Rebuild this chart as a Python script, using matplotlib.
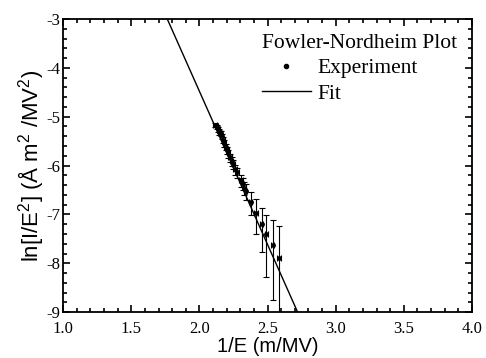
import matplotlib.pyplot as plt
from matplotlib.lines import Line2D
import numpy as np

# Fowler-Nordheim data
inv_field = [2.115, 2.127, 2.139, 2.146, 2.156, 2.163, 2.176, 2.183, 2.193,
             2.205, 2.212, 2.225, 2.237, 2.249, 2.262, 2.279, 2.306, 2.318,
             2.330, 2.340, 2.377, 2.415, 2.457, 2.490, 2.538, 2.585]
ln_current = [-5.17, -5.20, -5.26, -5.31, -5.34, -5.40, -5.47, -5.54, -5.61,
              -5.68, -5.75, -5.83, -5.91, -5.96, -6.08, -6.13, -6.30, -6.37,
              -6.45, -6.52, -6.74, -6.98, -7.20, -7.40, -7.63, -7.90]
err_up = [0.04, 0.04, 0.05, 0.05, 0.05, 0.05, 0.06, 0.06, 0.06,
          0.07, 0.07, 0.07, 0.08, 0.08, 0.09, 0.09, 0.10, 0.11,
          0.12, 0.14, 0.20, 0.29, 0.33, 0.38, 0.51, 0.67]
err_down = [0.05, 0.05, 0.06, 0.06, 0.06, 0.06, 0.07, 0.07, 0.08,
            0.08, 0.09, 0.09, 0.10, 0.10, 0.11, 0.12, 0.13, 0.14,
            0.16, 0.19, 0.28, 0.41, 0.57, 0.89, 1.13, 1.60]
x_err = 0.012

# linear fit ln(I/E^2) = a + b/E
fit_a = 8.06
fit_b = -6.27
fit_x = [1.0, 4.0]

plt.rcParams['font.family'] = ['Liberation Serif', 'DejaVu Serif']
plt.rcParams['mathtext.fontset'] = 'custom'
plt.rcParams['mathtext.rm'] = 'Liberation Sans'

fig = plt.figure(figsize=(4.86, 3.58), dpi=100)
ax = fig.add_axes([0.130, 0.128, 0.841, 0.819])

ax.errorbar(inv_field, ln_current, yerr=[err_down, err_up], xerr=x_err,
            fmt='o', ms=2.5, color='black', ecolor='black', elinewidth=0.8,
            capsize=2, capthick=0.8)
ax.plot(fit_x, fit_a + fit_b * np.array(fit_x), color='black', lw=1.0)

ax.set_xlim(1.0, 4.0)
ax.set_ylim(-9, -3)
ax.set_xticks(np.arange(1.0, 4.01, 0.5))
ax.set_xticks(np.arange(1.0, 4.01, 0.1), minor=True)
ax.set_yticks(np.arange(-9, -2.9, 1))
ax.set_yticks(np.arange(-9, -2.9, 0.2), minor=True)
ax.xaxis.set_major_formatter(plt.FormatStrFormatter('%.1f'))
ax.yaxis.set_major_formatter(plt.FormatStrFormatter('%d'))
ax.tick_params(which='both', direction='in', top=True, right=True,
               labelsize=12, width=1.2)
ax.tick_params(which='major', length=5)
ax.tick_params(which='minor', length=3)
ax.tick_params(axis='y', pad=2)
ax.tick_params(axis='x', pad=6)
for s in ax.spines.values():
    s.set_linewidth(1.3)

ax.set_xlabel('1/E (m/MV)', family='Liberation Sans', fontsize=14.5,
              labelpad=0)
ax.set_ylabel(r'ln[I/E$^2$] (Å m$^2$ /MV$^2$)', family='Liberation Sans',
              fontsize=16, labelpad=0)

handles = [Line2D([], [], ls='none', marker='o', ms=3, color='black'),
           Line2D([], [], color='black', lw=1.0)]
leg = ax.legend(handles, ['Experiment', 'Fit'], title='Fowler-Nordheim Plot',
                loc='upper right', frameon=False, fontsize=15.5,
                title_fontsize=15.5, handlelength=2.3, handletextpad=0.3,
                borderaxespad=0.4, borderpad=0.3, labelspacing=0.25,
                alignment='left')

fig.savefig('out.png', dpi=100)
